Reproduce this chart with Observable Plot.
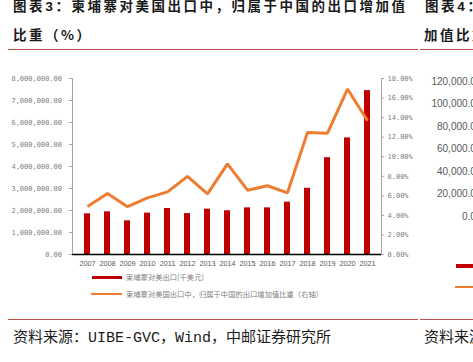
<!DOCTYPE html>
<html>
<head>
<meta charset="utf-8">
<script src="https://cdn.jsdelivr.net/npm/d3@7"></script>
<script src="https://cdn.jsdelivr.net/npm/@observablehq/plot@0.6"></script>
<style>
  html, body { margin: 0; padding: 0; background: #fff; }
  body { width: 473px; height: 362px; overflow: hidden; position: relative; font-family: "Noto Sans CJK SC", sans-serif; }
  .abs { position: absolute; white-space: nowrap; }
  .title { font-size: 13.5px; font-weight: 700; letter-spacing: 2.5px; color: #1a1a1a; line-height: 14px; }
  .mono { font-family: "Liberation Mono", monospace; }
  .src { font-size: 15px; color: #1a1a1a; line-height: 16px; }
  .leg { font-size: 7.3px; color: #7f7f7f; line-height: 8px; }
  .sep { position: absolute; height: 1px; background: #C0504D; }
</style>
</head>
<body>
<script>
// ---- data ----
const years = ["2007","2008","2009","2010","2011","2012","2013","2014","2015","2016","2017","2018","2019","2020","2021"];
const exportsUSD = [1850000, 1940000, 1530000, 1880000, 2090000, 1860000, 2060000, 1990000, 2120000, 2120000, 2380000, 3010000, 4400000, 5300000, 7450000];
const chinaShare = [4.92, 6.24, 4.89, 5.79, 6.41, 7.99, 6.20, 9.27, 6.58, 7.03, 6.31, 12.47, 12.41, 16.92, 13.68];
const leftTicks = [0, 1000000, 2000000, 3000000, 4000000, 5000000, 6000000, 7000000, 8000000];
const rightTicks = [0, 2, 4, 6, 8, 10, 12, 14, 16, 18];
const chart4Ticks = [0, 20000, 40000, 60000, 80000, 100000, 120000];
const seriesNames = ["柬埔寨对美出口(千美元)", "柬埔寨对美国出口中，归属于中国的出口增加值比重（右轴）"];

const yMax = 8000000, rMax = 18;
const toLeft = v => v / rMax * yMax;
const data = years.map((y, i) => ({year: y, exp: exportsUSD[i], share: chinaShare[i]}));

function addDiv(cls, text, style) {
  const d = document.createElement("div");
  d.className = cls;
  if (text != null) d.innerHTML = text;
  Object.assign(d.style, style);
  document.body.appendChild(d);
  return d;
}

// titles
addDiv("abs title", '图表<span class="mono">3</span>：柬埔寨对美国出口中，归属于中国的出口增加值', {left: "13px", top: "-2px"});
addDiv("abs title", '比重（%）', {left: "13px", top: "27px"});
addDiv("abs title", '图表<span class="mono">4</span>：柬埔寨对美国出口中，归属于中国的出口增加值', {left: "425px", top: "-2px"});
addDiv("abs title", '加值比重（%）', {left: "424px", top: "27px"});
addDiv("sep", null, {left: "8px", width: "410px", top: "49px"});
addDiv("sep", null, {left: "420px", width: "53px", top: "49px"});
addDiv("sep", null, {left: "8px", width: "410px", top: "319px"});
addDiv("sep", null, {left: "420px", width: "53px", top: "319px"});

// main chart
const chart = Plot.plot({
  width: 420,
  height: 215,
  marginLeft: 72,
  marginRight: 39,
  marginTop: 18,
  marginBottom: 21,
  style: {background: "transparent", overflow: "visible"},
  x: {type: "band", domain: years, paddingInner: 0.7, paddingOuter: 0.35, axis: null},
  y: {domain: [0, yMax], axis: null},
  marks: [
    Plot.barY(data, {x: "year", y: "exp", fill: "#C00000"}),
    Plot.lineY(data, {x: "year", y: d => toLeft(d.share), stroke: "#ED7D31", strokeWidth: 3, strokeLinejoin: "miter", strokeLinecap: "butt"}),
    Plot.frame({anchor: "left", stroke: "#A6A6A6"}),
    Plot.frame({anchor: "right", stroke: "#A6A6A6"}),
    Plot.axisY({anchor: "left", label: null, ticks: leftTicks, tickFormat: d3.format(",.2f"), tickSize: 3, tickPadding: 7.5,
      stroke: "#A6A6A6", fill: "#7f7f7f", fontSize: 7, fontFamily: "DejaVu Sans Mono, monospace", letterSpacing: "-0.2px"}),
    Plot.axisY({anchor: "right", label: null, ticks: rightTicks.map(toLeft), tickFormat: v => (v / yMax * rMax).toFixed(2) + "%", tickSize: 2, tickPadding: 4,
      stroke: "#A6A6A6", fill: "#7f7f7f", fontSize: 7, fontFamily: "DejaVu Sans Mono, monospace", letterSpacing: "-0.2px"}),
    Plot.axisX({anchor: "bottom", label: null, tickSize: 0, tickPadding: 6.5, fill: "#595959", fontSize: 7.3, fontFamily: "Liberation Sans, Arial, sans-serif"}),
    Plot.ruleY([0], {stroke: "#000", strokeWidth: 1.5})
  ]
});
const holder = addDiv("abs", null, {left: "0px", top: "60px", width: "420px"});
holder.appendChild(chart);

// legend
addDiv("abs", null, {left: "92px", top: "275.5px", width: "30px", height: "3.3px", background: "#C00000"});
addDiv("abs leg", seriesNames[0], {left: "126px", top: "273px"});
addDiv("abs", null, {left: "91px", top: "293.3px", width: "31px", height: "2px", background: "#ED7D31"});
addDiv("abs leg", seriesNames[1], {left: "126px", top: "290px"});

// partial neighbour chart (图表4), only its left axis labels and legend are visible
const chart4 = Plot.plot({
  width: 200,
  height: 180,
  marginLeft: 90,
  marginRight: 10,
  marginTop: 21,
  marginBottom: 24,
  style: {background: "transparent", overflow: "visible"},
  y: {domain: [0, 120000], axis: null},
  marks: [
    Plot.axisY({anchor: "left", label: null, ticks: chart4Ticks, tickFormat: d3.format(",.2f"), tickSize: 0, tickPadding: 9,
      fill: "#595959", fontSize: 10, fontFamily: "Liberation Sans, Arial, sans-serif"})
  ]
});
const holder4 = addDiv("abs", null, {left: "400px", top: "60px", width: "200px"});
holder4.appendChild(chart4);
addDiv("abs", null, {left: "456px", top: "264px", width: "30px", height: "4px", background: "#C00000"});
addDiv("abs", null, {left: "455px", top: "286px", width: "31px", height: "2px", background: "#ED7D31"});

// sources
addDiv("abs src", '资料来源：<span class="mono">UIBE-GVC</span>，<span class="mono">Wind</span>，中邮证券研究所', {left: "13px", top: "328px"});
addDiv("abs src", '资料来源：<span class="mono">UIBE-GVC</span>，<span class="mono">Wind</span>，中邮证券研究所', {left: "424px", top: "328px"});
</script>
</body>
</html>
